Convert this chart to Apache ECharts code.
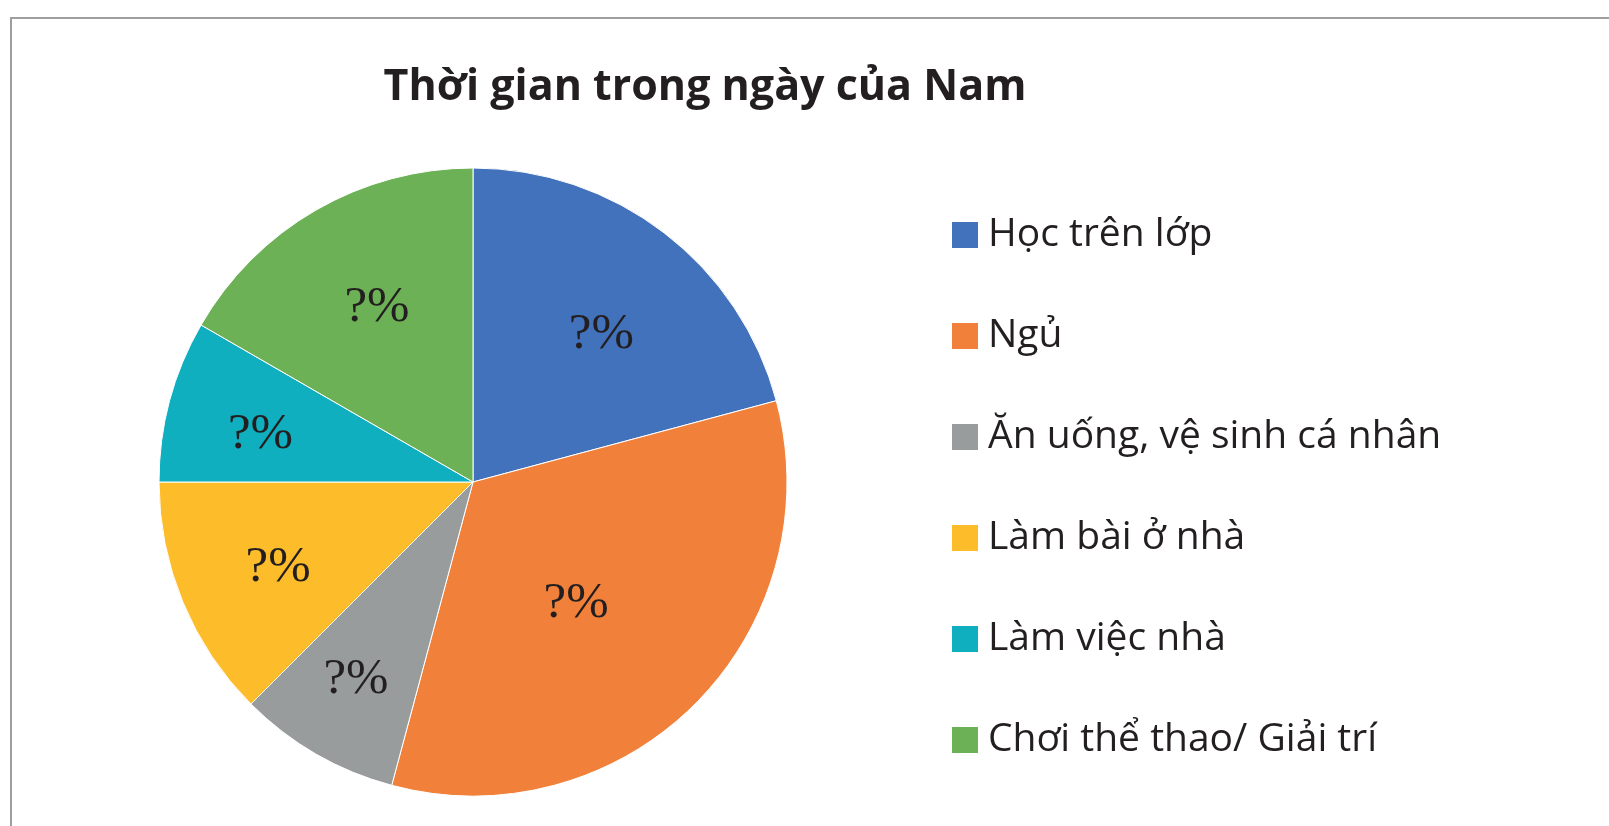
<!DOCTYPE html>
<html>
<head>
<meta charset="utf-8">
<title>Thời gian trong ngày của Nam</title>
<script src="https://cdn.jsdelivr.net/npm/echarts@6/dist/echarts.min.js"></script>
<style>
  html, body { margin: 0; padding: 0; background: #ffffff; }
  #chart { width: 1609px; height: 826px; }
</style>
</head>
<body>
<div id="chart"></div>
<script>
// Activities of a day and the hours spent on each (24 h in total)
const activities = [
  'Học trên lớp',
  'Ngủ',
  'Ăn uống, vệ sinh cá nhân',
  'Làm bài ở nhà',
  'Làm việc nhà',
  'Chơi thể thao/ Giải trí'
];
const hours = [5, 8, 2, 3, 2, 4];
const sliceColors = ['#4172BB', '#F1813A', '#999C9D', '#FDBC2A', '#0FAFBF', '#6CB155'];
const sliceLabel = '?%';

// Nudge of each slice label away from its default mid-radius spot, px
const labelShift = [[31, -20], [-10, 8], [-37, 59], [-47, 24], [-58, -6], [-16, -36]];

const pieCenter = [473, 482];
const pieRadius = 314;

const chart = echarts.init(document.getElementById('chart'), null, { renderer: 'canvas' });

chart.setOption({
  animation: false,
  backgroundColor: '#ffffff',
  title: {
    text: 'Thời gian trong ngày của Nam',
    left: 700,
    top: 61,
    textAlign: 'center',
    textStyle: {
      fontFamily: 'Open Sans',
      fontWeight: 700,
      fontSize: 43,
      color: '#231F20'
    }
  },
  legend: {
    orient: 'vertical',
    left: 950,
    top: 206,
    padding: 0,
    itemWidth: 28,
    itemHeight: 28,
    itemGap: 43,
    icon: 'rect',
    selectedMode: false,
    textStyle: {
      fontFamily: 'Open Sans',
      fontSize: 39,
      lineHeight: 44,
      color: '#231F20',
      padding: [14, 0, 0, 4]
    },
    data: activities
  },
  graphic: [{
    type: 'rect',
    silent: true,
    shape: { x: 11, y: 18, width: 1700, height: 900 },
    style: { fill: 'none', stroke: '#9E9E9E', lineWidth: 2 }
  }],
  series: [{
    type: 'pie',
    center: pieCenter,
    radius: pieRadius,
    startAngle: 90,
    clockwise: true,
    avoidLabelOverlap: false,
    emphasis: { disabled: true },
    itemStyle: { borderColor: '#ffffff', borderWidth: 1 },
    label: {
      show: true,
      position: 'inside',
      formatter: sliceLabel,
      fontFamily: 'Liberation Serif',
      fontSize: 51,
      color: '#231F20'
    },
    labelLine: { show: false },
    labelLayout: function (params) {
      const s = labelShift[params.dataIndex];
      return { dx: s[0], dy: s[1] };
    },
    data: activities.map((name, i) => ({
      name: name,
      value: hours[i],
      itemStyle: { color: sliceColors[i] }
    }))
  }]
});
</script>
</body>
</html>
